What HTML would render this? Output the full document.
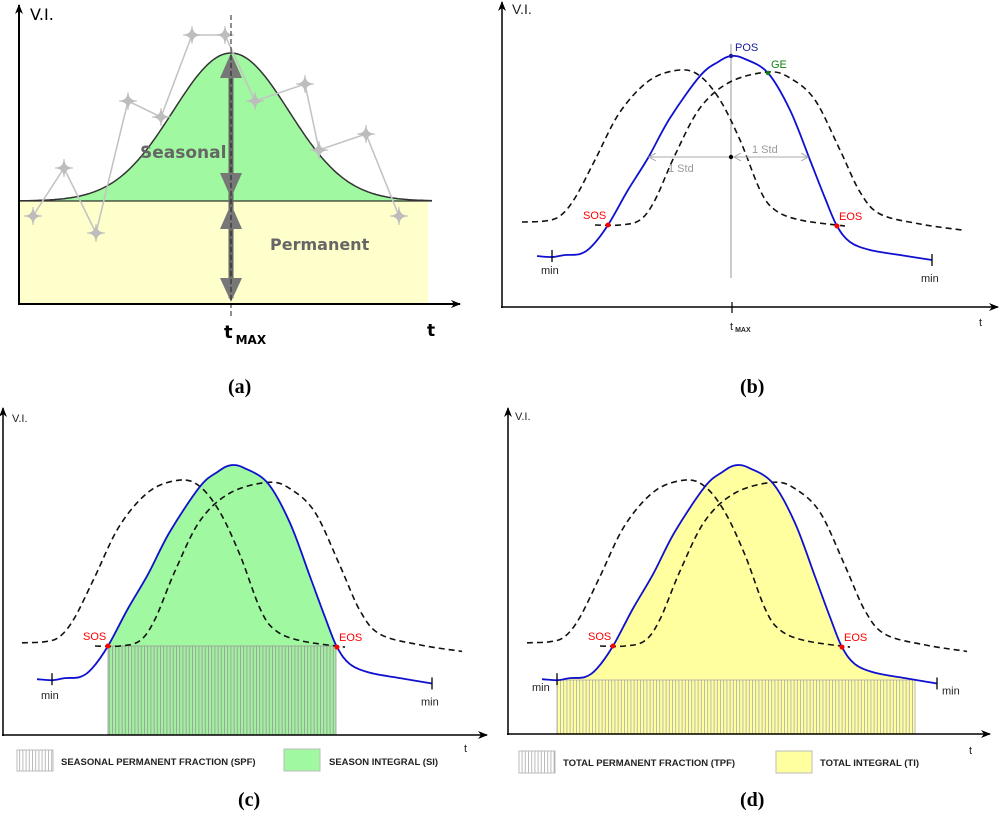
<!DOCTYPE html>
<html><head><meta charset="utf-8">
<style>
html,body{margin:0;padding:0;background:#fff;}
svg{display:block;}
text{font-family:"Liberation Sans",sans-serif;}
text.serif{font-family:"Liberation Serif",serif;}
text.dv{font-family:"DejaVu Sans",sans-serif;}
</style></head>
<body>
<svg id="fig" width="1000" height="819" viewBox="0 0 1000 819" xmlns="http://www.w3.org/2000/svg">
<defs>
  <marker id="arr" markerWidth="10" markerHeight="8" refX="9" refY="4" orient="auto" markerUnits="userSpaceOnUse"><path d="M0,0 L10,4 L0,8 L3,4 Z" fill="#000"/></marker>
  <marker id="garr" markerWidth="8" markerHeight="8" refX="7" refY="4" orient="auto-start-reverse" markerUnits="userSpaceOnUse"><path d="M0,0 L7,4 L0,8" fill="none" stroke="#aaa" stroke-width="1"/></marker>
  <pattern id="hatchG" width="3.2" height="10" patternUnits="userSpaceOnUse"><rect width="3.2" height="10" fill="#a0f0a0"/><line x1="0.5" y1="0" x2="0.5" y2="10" stroke="#999" stroke-width="0.8"/></pattern>
  <pattern id="hatchY" width="3.2" height="10" patternUnits="userSpaceOnUse"><rect width="3.2" height="10" fill="#ffffa0"/><line x1="0.5" y1="0" x2="0.5" y2="10" stroke="#aaa" stroke-width="0.8"/></pattern>
  <pattern id="hatchW" width="3.2" height="10" patternUnits="userSpaceOnUse"><rect width="3.2" height="10" fill="#fff"/><line x1="0.5" y1="0" x2="0.5" y2="10" stroke="#aaa" stroke-width="0.8"/></pattern>
  <clipPath id="clipC"><rect x="108" y="0" width="228" height="735"/></clipPath>
  <clipPath id="clipD"><rect x="557" y="0" width="358" height="735"/></clipPath>
</defs>

<!-- ================= PANEL A ================= -->
<g id="panelA">
  <rect x="20" y="201" width="408" height="102" fill="#ffffcc"/>
  <path id="bellFill" fill="#a0f8a0"/>
  <path id="bellLine" fill="none" stroke="#333" stroke-width="1.5"/>
  <line x1="20" y1="201" x2="432" y2="201" stroke="#333" stroke-width="1.2"/>
  <g id="obsGroup"></g>
  <g fill="#777">
    <rect x="228.5" y="60" width="5" height="238" fill="#666"/>
    <polygon points="231,53 220,78 242,78"/>
    <polygon points="231,198 220,173 242,173"/>
    <polygon points="231,204 220,229 242,229"/>
    <polygon points="231,302 220,278 242,278"/>
  </g>
  <line x1="231" y1="15" x2="231" y2="318" stroke="#222" stroke-width="1" stroke-dasharray="5,3"/>
  <text class="dv" x="140" y="158" font-size="17" font-weight="bold" fill="#666">Seasonal</text>
  <text class="dv" x="270" y="250" font-size="16" font-weight="bold" fill="#666">Permanent</text>
  <line x1="19" y1="304" x2="19" y2="5" stroke="#000" stroke-width="2" marker-end="url(#arr)"/>
  <line x1="18" y1="304" x2="460" y2="304" stroke="#000" stroke-width="2" marker-end="url(#arr)"/>
  <text class="dv" x="30" y="20" font-size="16">V.I.</text>
  <text class="dv" x="224" y="338" font-size="18" font-weight="bold">t<tspan font-size="12" dx="3" dy="6">MAX</tspan></text>
  <text class="dv" x="427" y="336" font-size="17" font-weight="bold">t</text>
</g>
<text class="serif" x="228" y="393" font-size="20" font-weight="bold">(a)</text>

<!-- ================= PANEL B ================= -->
<g id="panelB">
  <line x1="502" y1="308" x2="502" y2="2" stroke="#000" stroke-width="1.5" marker-end="url(#arr)"/>
  <line x1="501" y1="307" x2="998" y2="307" stroke="#000" stroke-width="1.5" marker-end="url(#arr)"/>
  <text x="512" y="14" font-size="14" fill="#222">V.I.</text>
  <line x1="731" y1="44" x2="731" y2="278" stroke="#999" stroke-width="1"/>
  <line x1="732" y1="302" x2="732" y2="313" stroke="#000" stroke-width="1.2"/>
  <text x="730" y="330" font-size="11" fill="#222">t<tspan font-size="7" font-weight="bold" dx="2" dy="2">MAX</tspan></text>
  <text x="979" y="326" font-size="11" fill="#222">t</text>
  <g id="curvesB"></g>
  <line x1="649" y1="157" x2="729" y2="157" stroke="#aaa" stroke-width="1" marker-start="url(#garr)"/>
  <line x1="734" y1="157" x2="808" y2="157" stroke="#aaa" stroke-width="1" marker-start="url(#garr)" marker-end="url(#garr)"/>
  <circle cx="731" cy="157" r="2.2" fill="#000"/>
  <text x="668" y="172" font-size="11" fill="#999">1 Std</text>
  <text x="752" y="153" font-size="11" fill="#999">1 Std</text>
  <text x="735" y="51" font-size="11" fill="#1a1aa0">POS</text>
  <text x="771" y="68" font-size="11" fill="#108010">GE</text>
  <circle cx="731" cy="56" r="2.2" fill="#1a1aa0"/>
  <circle cx="768" cy="73" r="2.2" fill="#108010"/>
</g>
<text class="serif" x="740" y="393" font-size="20" font-weight="bold">(b)</text>

<!-- ================= PANEL C ================= -->
<g id="panelC">
  <g id="fillC" clip-path="url(#clipC)"></g>
  <rect x="108" y="646" width="228" height="89" fill="url(#hatchG)" stroke="#999" stroke-width="0.8"/>
  <g id="curvesC"></g>
  <line x1="3" y1="736" x2="3" y2="408" stroke="#000" stroke-width="1.5" marker-end="url(#arr)"/>
  <line x1="2" y1="735" x2="487" y2="735" stroke="#000" stroke-width="1.5" marker-end="url(#arr)"/>
  <text x="12" y="422" font-size="11" fill="#222">V.I.</text>
  <text x="464" y="752" font-size="11" fill="#222">t</text>
  <g>
    <rect x="17" y="750" width="36" height="21" fill="url(#hatchW)" stroke="#bbb"/>
    <text x="61" y="765" font-size="9.5" font-weight="bold" fill="#222">SEASONAL PERMANENT FRACTION (SPF)</text>
    <rect x="284" y="749" width="36" height="22" fill="#a0f8a0" stroke="#bbb"/>
    <text x="329" y="765" font-size="9.5" font-weight="bold" fill="#222">SEASON INTEGRAL (SI)</text>
  </g>
</g>
<text class="serif" x="238" y="806" font-size="20" font-weight="bold">(c)</text>

<!-- ================= PANEL D ================= -->
<g id="panelD">
  <g id="fillD" clip-path="url(#clipD)"></g>
  <rect x="557" y="680" width="358" height="54" fill="url(#hatchY)" stroke="#aaa" stroke-width="0.8"/>
  <g id="curvesD"></g>
  <line x1="508" y1="735" x2="508" y2="408" stroke="#000" stroke-width="1.5" marker-end="url(#arr)"/>
  <line x1="507" y1="734" x2="990" y2="734" stroke="#000" stroke-width="1.5" marker-end="url(#arr)"/>
  <text x="515" y="420" font-size="11" fill="#222">V.I.</text>
  <text x="969" y="754" font-size="11" fill="#222">t</text>
  <g>
    <rect x="519" y="751" width="36" height="22" fill="url(#hatchW)" stroke="#bbb"/>
    <text x="563" y="766" font-size="9.5" font-weight="bold" fill="#222">TOTAL PERMANENT FRACTION (TPF)</text>
    <rect x="776" y="751" width="36" height="22" fill="#ffffa0" stroke="#bbb"/>
    <text x="820" y="766" font-size="9.5" font-weight="bold" fill="#222">TOTAL INTEGRAL (TI)</text>
  </g>
</g>
<text class="serif" x="740" y="806" font-size="20" font-weight="bold">(d)</text>
</svg>

<script>
// ---- Panel (a) data ----
const bellBase = 201, bellPeak = 53, bellCenter = 231, bellSigma = 58;
const obsT = [33, 64, 96, 128, 161, 192, 225, 255, 305, 319, 366, 399];
const obsV = [216, 168, 233, 101, 117, 35, 35, 101, 84, 150, 134, 216];

// ---- Panel (b) curve data (time, value in panel-b pixel frame) ----
const blueT = [537, 552, 565, 580, 592, 608, 628, 648, 670, 700, 718, 731, 745, 768, 790, 810, 825, 837, 850, 870, 900, 932];
const blueV = [256, 257, 255, 254, 246, 225, 190, 158, 118, 76, 62, 56, 59, 73, 110, 160, 198, 226, 242, 250, 255, 260];
const dashLT = [522, 545, 560, 575, 595, 620, 650, 680, 700, 720, 740, 760, 775, 800, 845];
const dashLV = [222, 221, 216, 198, 160, 112, 80, 70, 76, 100, 140, 190, 210, 220, 226];
const dashRT = [595, 620, 640, 655, 675, 700, 730, 768, 790, 815, 840, 860, 880, 920, 962];
const dashRV = [225, 225, 220, 200, 155, 108, 82, 72, 78, 100, 150, 192, 214, 224, 230];
const sosPt = [608, 225], eosPt = [837, 226];
const minTicks = [[552, 256], [932, 260]];

const NS = "http://www.w3.org/2000/svg";
function mk(tag, attrs, parent) {
  const e = document.createElementNS(NS, tag);
  for (const k in attrs) e.setAttribute(k, attrs[k]);
  parent.appendChild(e);
  return e;
}
function smooth(xs, ys, fx, fy) {
  const p = xs.map((x, i) => [fx(x), fy(ys[i])]);
  let d = "M" + p[0][0].toFixed(1) + "," + p[0][1].toFixed(1);
  for (let i = 0; i < p.length - 1; i++) {
    const p0 = p[Math.max(0, i - 1)], p1 = p[i], p2 = p[i + 1], p3 = p[Math.min(p.length - 1, i + 2)];
    const c1 = [p1[0] + (p2[0] - p0[0]) / 6, p1[1] + (p2[1] - p0[1]) / 6];
    const c2 = [p2[0] - (p3[0] - p1[0]) / 6, p2[1] - (p3[1] - p1[1]) / 6];
    d += " C" + c1[0].toFixed(1) + "," + c1[1].toFixed(1) + " " + c2[0].toFixed(1) + "," + c2[1].toFixed(1) + " " + p2[0].toFixed(1) + "," + p2[1].toFixed(1);
  }
  return d;
}

// Panel A
(function () {
  let d = "";
  for (let x = 20; x <= 432; x += 2) {
    const y = bellBase - (bellBase - bellPeak) * Math.exp(-Math.pow(x - bellCenter, 2) / (2 * bellSigma * bellSigma));
    d += (x === 20 ? "M" : "L") + x + "," + y.toFixed(1);
  }
  document.getElementById("bellLine").setAttribute("d", d);
  document.getElementById("bellFill").setAttribute("d", d + " L432,201 L20,201 Z");
  const g = document.getElementById("obsGroup");
  const pl = mk("polyline", {points: obsT.map((t, i) => t + "," + obsV[i]).join(" "), fill: "none", stroke: "#c4c4c4", "stroke-width": 1.6}, g);
  
  
  obsT.forEach((t, i) => {
    const v = obsV[i];
    const s = mk("path", {d: `M${t},${v-9} Q${t},${v} ${t+9},${v} Q${t},${v} ${t},${v+9} Q${t},${v} ${t-9},${v} Q${t},${v} ${t},${v-9} Z`, fill: "#bdbdbd", stroke: "#bdbdbd", "stroke-width": 1}, g);
    
    
  });
})();

function drawPanel(gid, fx, fy, opts) {
  const g = document.getElementById(gid);
  const dl = mk("path", {d: smooth(dashLT, dashLV, fx, fy), fill: "none", stroke: "#111", "stroke-width": 1.6, "stroke-dasharray": "6,4"}, g);
  
  
  const dr = mk("path", {d: smooth(dashRT, dashRV, fx, fy), fill: "none", stroke: "#111", "stroke-width": 1.6, "stroke-dasharray": "6,4"}, g);
  
  
  const bl = mk("path", {d: smooth(blueT, blueV, fx, fy), fill: "none", stroke: "#1010d0", "stroke-width": 1.8}, g);
  
  
  minTicks.forEach((m, i) => {
    const x = fx(m[0]), y = fy(m[1]);
    const tk = mk("line", {x1: x, y1: y - 6, x2: x, y2: y + 6, stroke: "#000", "stroke-width": 1.3}, g);
    
    
    const lb = mk("text", {x: x + opts.minDx[i], y: y + opts.minDy[i], "font-size": 11, fill: "#222"}, g);
    lb.textContent = "min";
    
    
  });
  [[sosPt, "SOS", -25], [eosPt, "EOS", 2]].forEach(([p, name, dx]) => {
    const c = mk("circle", {cx: fx(p[0]), cy: fy(p[1]), r: 2.5, fill: "#f00"}, g);
    
    
    const t = mk("text", {x: fx(p[0]) + dx, y: fy(p[1]) - 6, "font-size": 11, fill: "#f00"}, g);
    t.textContent = name;
    
    
  });
}
function fillArea(gid, fx, fy, color, name) {
  const g = document.getElementById(gid);
  const d = smooth(blueT, blueV, fx, fy) + ` L${fx(blueT[blueT.length-1])},735 L${fx(blueT[0])},735 Z`;
  const f = mk("path", {d: d, fill: color}, g);
  
  
}
const idB = v => v;
drawPanel("curvesB", idB, idB, {minDx: [-11, -11], minDy: [18, 22]});
const fxC = x => x - 500, fyC = y => 646 + (y - 225) * 1.07;
fillArea("fillC", fxC, fyC, "#a0f8a0", "season-integral-area");
drawPanel("curvesC", fxC, fyC, {minDx: [-11, -11], minDy: [20, 22]});
const fxD = x => x + 5, fyD = y => 646 + (y - 225) * 1.07;
fillArea("fillD", fxD, fyD, "#ffffa0", "total-integral-area");
drawPanel("curvesD", fxD, fyD, {minDx: [-25, 5], minDy: [12, 11]});
</script>
</body></html>
